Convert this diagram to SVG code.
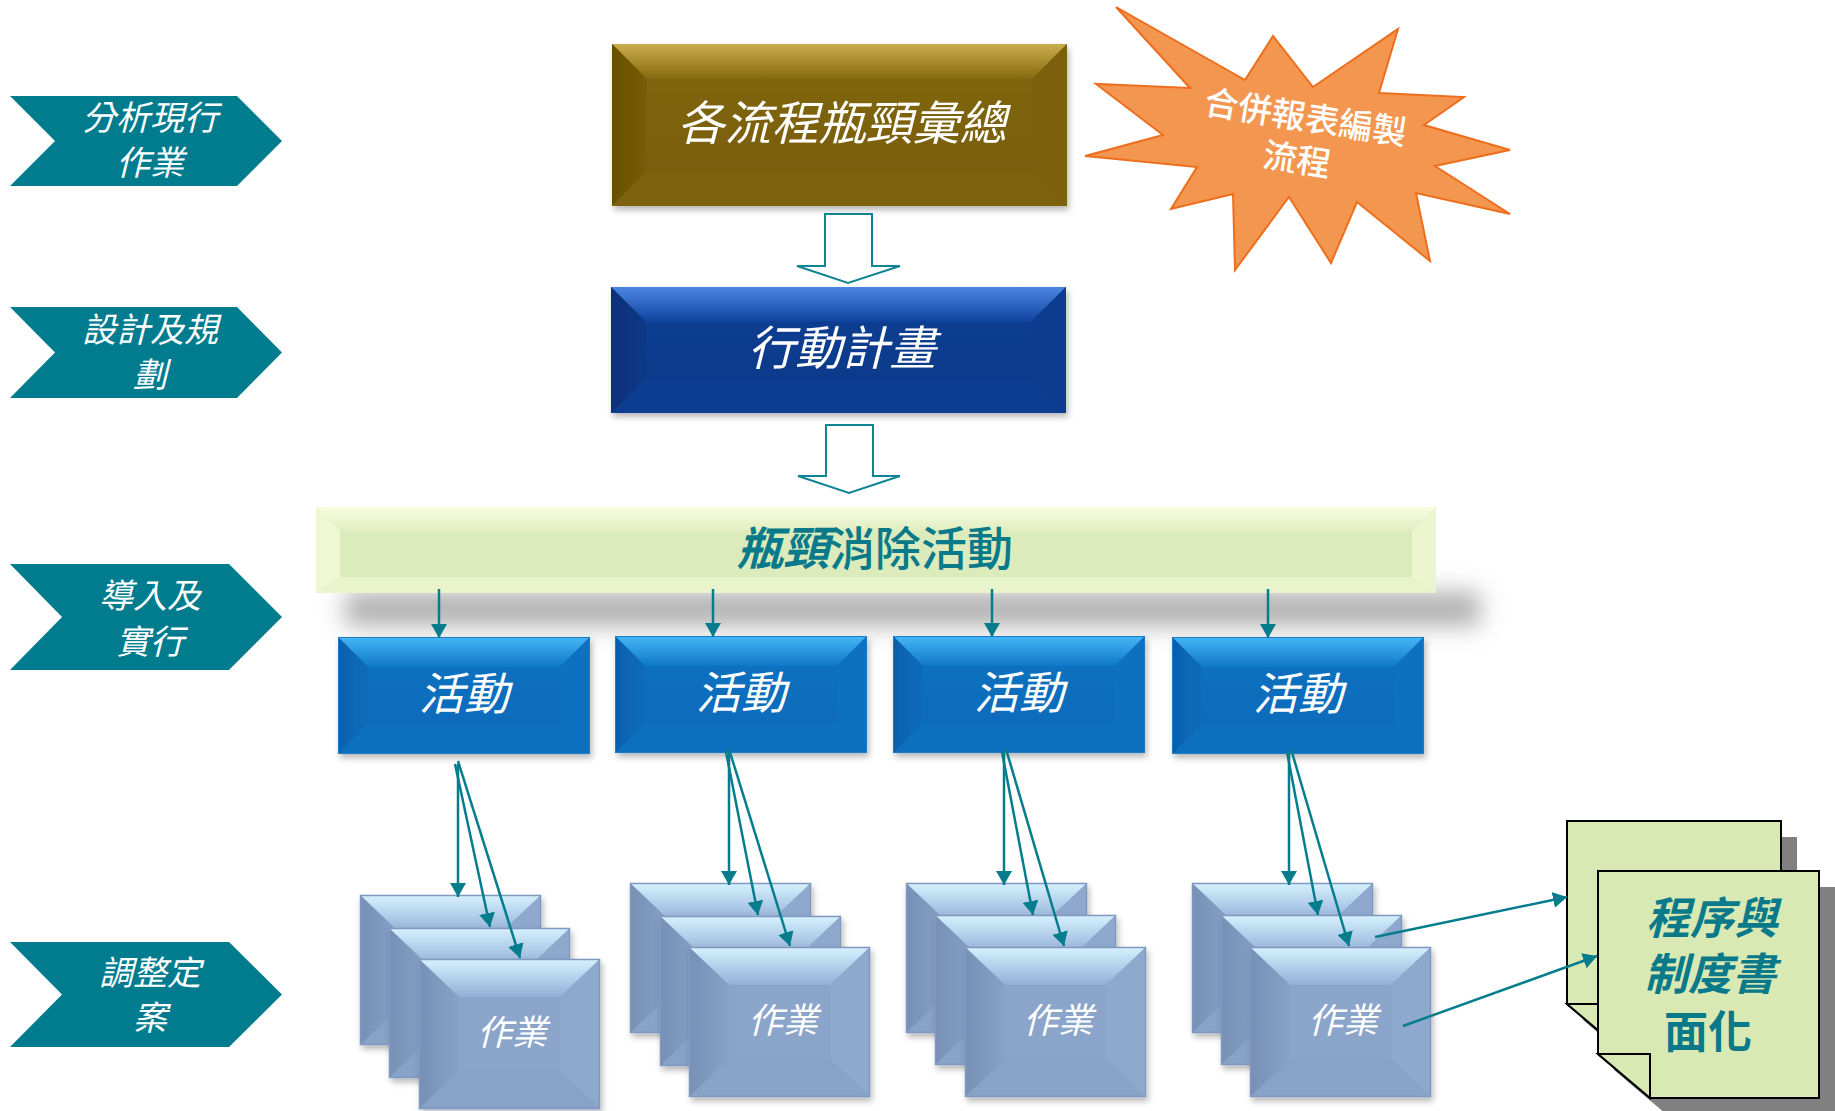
<svg xmlns="http://www.w3.org/2000/svg" xmlns:xlink="http://www.w3.org/1999/xlink" width="1835" height="1111" viewBox="0 0 1835 1111">
<style>
  .cjk { font-family: "Noto Sans CJK TC", "Noto Sans CJK SC", "Noto Sans", sans-serif; }
  .chev { fill: #017c8f; }
  .chevtxt { fill: #ffffff; font-size: 34px; font-style: italic; text-anchor: middle; }
  .boxtxt { fill: #ffffff; font-size: 47px; font-style: italic; text-anchor: middle; }
  .acttxt { fill: #ffffff; font-size: 45px; font-style: italic; text-anchor: middle; }
  .cardtxt { fill: #ffffff; font-size: 35px; font-style: italic; text-anchor: middle; }
  .hollow { fill: #ffffff; stroke: #0f8494; stroke-width: 2; }
  .conn { stroke: #057d8d; stroke-width: 2.5; fill: none; marker-end: url(#ah); }
  .doc { fill: #d8e9b4; stroke: #000000; stroke-width: 2; }
  .docshadow { fill: #808080; }
  .doctxt { fill: #0a7a8a; font-size: 44px; font-weight: bold; text-anchor: middle; }
</style>
<defs>
  <marker id="ah" viewBox="0 0 14 16" refX="14" refY="8" markerWidth="14" markerHeight="16" markerUnits="userSpaceOnUse" orient="auto">
    <path d="M0,0 L14,8 L0,16 Z" fill="#057d8d"/>
  </marker>
  <filter id="sh" x="-10%" y="-10%" width="130%" height="140%">
    <feDropShadow dx="2" dy="4" stdDeviation="3" flood-color="#000" flood-opacity="0.28"/>
  </filter>
  <filter id="blur" x="-20%" y="-150%" width="140%" height="400%">
    <feGaussianBlur stdDeviation="12"/>
  </filter>
  <linearGradient id="goldTop" x1="0" y1="0" x2="0" y2="1">
    <stop offset="0" stop-color="#cbae4c"/>
    <stop offset="1" stop-color="#856a0f"/>
  </linearGradient>
  <linearGradient id="goldBody" x1="0" y1="0" x2="0" y2="1">
    <stop offset="0" stop-color="#826810"/>
    <stop offset="1" stop-color="#775c05"/>
  </linearGradient>
  <linearGradient id="goldLeft" x1="0" y1="0" x2="1" y2="0">
    <stop offset="0" stop-color="#6a5003"/>
    <stop offset="1" stop-color="#775c07"/>
  </linearGradient>
  <linearGradient id="blueTop" x1="0" y1="0" x2="0" y2="1">
    <stop offset="0" stop-color="#4d86e4"/>
    <stop offset="1" stop-color="#0f429e"/>
  </linearGradient>
  <linearGradient id="blueBody" x1="0" y1="0" x2="0" y2="1">
    <stop offset="0" stop-color="#0c3e92"/>
    <stop offset="1" stop-color="#0a3888"/>
  </linearGradient>
  <linearGradient id="blueLeft" x1="0" y1="0" x2="1" y2="0">
    <stop offset="0" stop-color="#072f78"/>
    <stop offset="1" stop-color="#0a3988"/>
  </linearGradient>
  <linearGradient id="actTop" x1="0" y1="0" x2="0" y2="1">
    <stop offset="0" stop-color="#45b6f6"/>
    <stop offset="1" stop-color="#0f78c8"/>
  </linearGradient>
  <linearGradient id="actBody" x1="0" y1="0" x2="0" y2="1">
    <stop offset="0" stop-color="#0c72c2"/>
    <stop offset="1" stop-color="#0869b9"/>
  </linearGradient>
  <linearGradient id="actLeft" x1="0" y1="0" x2="1" y2="0">
    <stop offset="0" stop-color="#0660ad"/>
    <stop offset="1" stop-color="#0a6cbc"/>
  </linearGradient>
  <linearGradient id="cardTop" x1="0" y1="0" x2="0" y2="1">
    <stop offset="0" stop-color="#d6f2ff"/>
    <stop offset="1" stop-color="#93afd6"/>
  </linearGradient>
  <linearGradient id="cardLeft" x1="0" y1="0" x2="1" y2="0">
    <stop offset="0" stop-color="#7890b6"/>
    <stop offset="1" stop-color="#87a1c7"/>
  </linearGradient>
  <linearGradient id="banTop" x1="0" y1="0" x2="0" y2="1">
    <stop offset="0" stop-color="#f9fde2"/>
    <stop offset="1" stop-color="#e0edc0"/>
  </linearGradient>
  <g id="actShape">
    <rect x="0" y="0" width="252" height="117" fill="url(#actBody)"/>
    <polygon points="0,0 252,0 222,30 30,30" fill="url(#actTop)"/>
    <polygon points="0,0 30,30 30,87 0,117" fill="url(#actLeft)"/>
    <polygon points="252,0 252,117 222,87 222,30" fill="#0b6fc0"/>
    <polygon points="0,117 30,87 222,87 252,117" fill="#0a6fbf"/>
    <rect x="0.5" y="0.5" width="251" height="116" fill="none" stroke="#1e7cc6" stroke-width="1"/>
  </g>
  <g id="cardShape">
    <rect x="0" y="0" width="181" height="150" fill="#8aa4ca"/>
    <polygon points="0,0 181,0 141,38 40,38" fill="url(#cardTop)"/>
    <polygon points="0,0 40,38 40,112 0,150" fill="url(#cardLeft)"/>
    <polygon points="181,0 181,150 141,112 141,38" fill="#8ea8ce"/>
    <polygon points="0,150 40,112 141,112 181,150" fill="#88a2c8"/>
    <rect x="0.5" y="0.5" width="180" height="149" fill="none" stroke="#7f98bf" stroke-width="1.5"/>
  </g>
</defs>

<rect x="0" y="0" width="1835" height="1111" fill="#ffffff"/>

<!-- Left phase chevrons -->
<g id="phase1">
  <path class="chev" d="M10,96 L237,96 L282,141 L237,186 L10,186 L55,141 Z"/>
  <text class="cjk chevtxt" x="150" y="130">分析現行</text>
  <text class="cjk chevtxt" x="150" y="175">作業</text>
</g>
<g id="phase2">
  <path class="chev" d="M10,307 L237,307 L282,352.5 L237,398 L10,398 L55,352.5 Z"/>
  <text class="cjk chevtxt" x="150" y="342">設計及規</text>
  <text class="cjk chevtxt" x="150" y="387">劃</text>
</g>
<g id="phase3">
  <path class="chev" d="M10,564 L229,564 L282,617 L229,670 L10,670 L62,617 Z"/>
  <text class="cjk chevtxt" x="150" y="608">導入及</text>
  <text class="cjk chevtxt" x="150" y="654">實行</text>
</g>
<g id="phase4">
  <path class="chev" d="M10,942 L229,942 L282,994.5 L229,1047 L10,1047 L62,994.5 Z"/>
  <text class="cjk chevtxt" x="150" y="985">調整定</text>
  <text class="cjk chevtxt" x="150" y="1030">案</text>
</g>

<!-- Top box: 各流程瓶頸彙總 -->
<g id="summary" filter="url(#sh)">
  <rect x="612" y="44" width="455" height="162" fill="url(#goldBody)"/>
  <polygon points="612,44 1067,44 1032,79 647,79" fill="url(#goldTop)"/>
  <polygon points="612,44 647,79 647,171 612,206" fill="url(#goldLeft)"/>
  <polygon points="1067,44 1067,206 1032,171 1032,79" fill="#7c610a"/>
  <polygon points="612,206 647,171 1032,171 1067,206" fill="#7d620b"/>
  <text class="cjk boxtxt" x="842" y="140">各流程瓶頸彙總</text>
</g>

<!-- Starburst -->
<g id="burst">
  <polygon points="1116,7 1245,80 1273,36 1313,87 1398,29 1379,93 1464,97 1424,125 1510,150 1435,166 1510,214 1416,193 1430,261 1357,202 1331,263 1289,197 1235,270 1233,194 1171,209 1197,167 1085,156 1163,135 1096,84 1190,88" fill="#f3964f" stroke="#ed6e1c" stroke-width="2"/>
  <g transform="rotate(9 1300 140)">
    <text class="cjk" x="1302" y="129" fill="#ffffff" font-size="34" font-weight="500" text-anchor="middle">合併報表編製</text>
    <text class="cjk" x="1300" y="172" fill="#ffffff" font-size="34" font-weight="500" text-anchor="middle">流程</text>
  </g>
</g>

<!-- Action plan box -->
<g id="plan" filter="url(#sh)">
  <rect x="611" y="287" width="455" height="126" fill="url(#blueBody)"/>
  <polygon points="611,287 1066,287 1031,322 646,322" fill="url(#blueTop)"/>
  <polygon points="611,287 646,322 646,378 611,413" fill="url(#blueLeft)"/>
  <polygon points="1066,287 1066,413 1031,378 1031,322" fill="#0b3b8e"/>
  <polygon points="611,413 646,378 1031,378 1066,413" fill="#0b3c90"/>
  <text class="cjk boxtxt" x="842" y="365">行動計畫</text>
</g>

<!-- Banner -->
<g id="banner">
  <rect x="345" y="592" width="1135" height="34" fill="#a6a6a6" filter="url(#blur)" opacity="0.9"/>
  <rect x="316" y="507" width="1120" height="86" fill="#dcebbb"/>
  <polygon points="316,507 1436,507 1412,531 340,531" fill="url(#banTop)"/>
  <polygon points="316,507 340,531 340,577 316,593" fill="#eff8d3"/>
  <polygon points="1436,507 1436,593 1412,577 1412,531" fill="#ecf5ce"/>
  <polygon points="316,593 340,577 1412,577 1436,593" fill="#eaf4cc"/>
  <text class="cjk" x="875" y="565" font-size="46" font-weight="500" fill="#0a7a8a" text-anchor="middle"><tspan font-style="italic" font-weight="bold">瓶頸</tspan>消除活動</text>
</g>

<!-- Activity boxes -->
<g id="act1">
  <use xlink:href="#actShape" x="338" y="637" filter="url(#sh)"/>
  <text class="cjk acttxt" x="464" y="710">活動</text>
</g>
<g id="act2">
  <use xlink:href="#actShape" x="615" y="636" filter="url(#sh)"/>
  <text class="cjk acttxt" x="741" y="709">活動</text>
</g>
<g id="act3">
  <use xlink:href="#actShape" x="893" y="636" filter="url(#sh)"/>
  <text class="cjk acttxt" x="1019" y="709">活動</text>
</g>
<g id="act4">
  <use xlink:href="#actShape" x="1172" y="637" filter="url(#sh)"/>
  <text class="cjk acttxt" x="1298" y="710">活動</text>
</g>

<!-- Task card stacks -->
<g id="tasks1">
  <use xlink:href="#cardShape" x="360" y="895" filter="url(#sh)"/>
  <use xlink:href="#cardShape" x="389" y="928" filter="url(#sh)"/>
  <use xlink:href="#cardShape" x="419" y="959" filter="url(#sh)"/>
  <text class="cjk cardtxt" x="512" y="1045">作業</text>
</g>
<g id="tasks2">
  <use xlink:href="#cardShape" x="630" y="883" filter="url(#sh)"/>
  <use xlink:href="#cardShape" x="660" y="916" filter="url(#sh)"/>
  <use xlink:href="#cardShape" x="689" y="947" filter="url(#sh)"/>
  <text class="cjk cardtxt" x="783" y="1033">作業</text>
</g>
<g id="tasks3">
  <use xlink:href="#cardShape" x="906" y="883" filter="url(#sh)"/>
  <use xlink:href="#cardShape" x="935" y="915" filter="url(#sh)"/>
  <use xlink:href="#cardShape" x="965" y="947" filter="url(#sh)"/>
  <text class="cjk cardtxt" x="1058" y="1033">作業</text>
</g>
<g id="tasks4">
  <use xlink:href="#cardShape" x="1192" y="883" filter="url(#sh)"/>
  <use xlink:href="#cardShape" x="1221" y="915" filter="url(#sh)"/>
  <use xlink:href="#cardShape" x="1250" y="947" filter="url(#sh)"/>
  <text class="cjk cardtxt" x="1343" y="1033">作業</text>
</g>

<!-- Documents -->
<g id="docs">
  <path class="docshadow" d="M1583,837 L1797,837 L1797,1064 L1635,1064 L1583,1020 Z"/>
  <path class="doc" d="M1567,821 L1781,821 L1781,1048 L1619,1048 L1567,1004 Z"/>
  <path class="doc" d="M1567,1004 L1619,1004 L1619,1048 Z"/>
  <path class="docshadow" d="M1614,887 L1835,887 L1835,1114 L1666,1114 L1614,1070 Z"/>
  <path class="doc" d="M1598,871 L1819,871 L1819,1098 L1650,1098 L1598,1054 Z"/>
  <path class="doc" d="M1598,1054 L1650,1054 L1650,1098 Z"/>
  <text class="cjk doctxt" x="1712" y="934" font-style="italic">程序與</text>
  <text class="cjk doctxt" x="1710" y="990" font-style="italic">制度書</text>
  <text class="cjk doctxt" x="1708" y="1048">面化</text>
</g>

<!-- Connectors -->
<g id="connectors">
  <path class="hollow" d="M825,214 L872,214 L872,266 L900,266 L848,283 L797,266 L825,266 Z"/>
  <path class="hollow" d="M826,425 L873,425 L873,476 L900,476 L849,493 L798,476 L826,476 Z"/>
  <line class="conn" x1="439" y1="589" x2="439" y2="638"/>
  <line class="conn" x1="713" y1="589" x2="713" y2="637"/>
  <line class="conn" x1="992" y1="589" x2="992" y2="637"/>
  <line class="conn" x1="1268" y1="589" x2="1268" y2="638"/>
  <line class="conn" x1="458" y1="764" x2="458" y2="897"/>
  <line class="conn" x1="455" y1="764" x2="490" y2="927"/>
  <line class="conn" x1="458" y1="761" x2="520" y2="958"/>
  <line class="conn" x1="729" y1="752" x2="729" y2="885"/>
  <line class="conn" x1="726" y1="752" x2="758" y2="915"/>
  <line class="conn" x1="729" y1="749" x2="790" y2="946"/>
  <line class="conn" x1="1004" y1="752" x2="1004" y2="885"/>
  <line class="conn" x1="1002" y1="752" x2="1033" y2="915"/>
  <line class="conn" x1="1006" y1="749" x2="1064" y2="946"/>
  <line class="conn" x1="1289" y1="752" x2="1289" y2="885"/>
  <line class="conn" x1="1287" y1="752" x2="1318" y2="915"/>
  <line class="conn" x1="1291" y1="749" x2="1349" y2="946"/>
  <line class="conn" x1="1375" y1="937" x2="1567" y2="897"/>
  <line class="conn" x1="1403" y1="1026" x2="1597" y2="956"/>
</g>
</svg>
